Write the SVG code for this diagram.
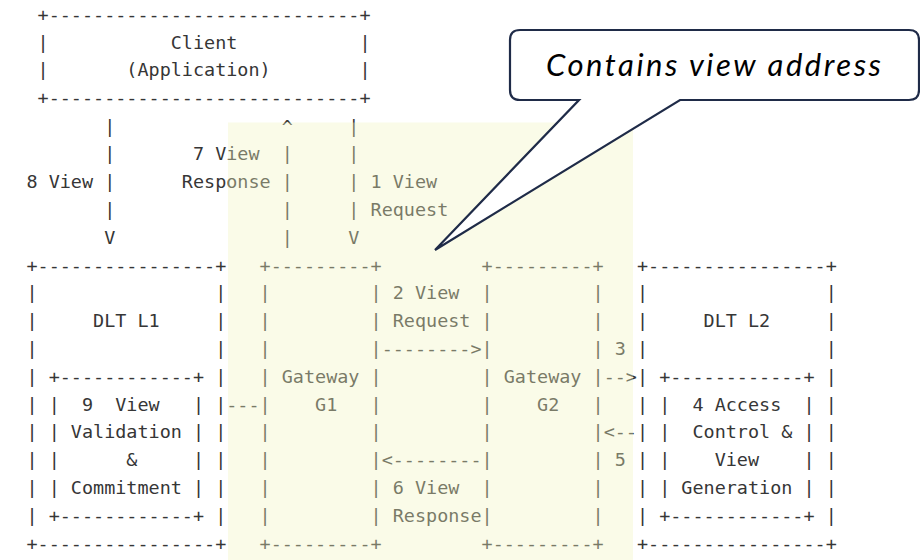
<svg xmlns="http://www.w3.org/2000/svg" width="920" height="560" viewBox="0 0 920 560">
<style>
.a{font-family:"DejaVu Sans Mono","Liberation Mono",monospace;font-size:18.44px;fill:#363636}
.call{font-family:Lato,"Open Sans","Liberation Sans",sans-serif;font-style:italic;font-size:31px;fill:#000}
</style>
<rect x="0" y="0" width="920" height="560" fill="#fff"/>
<g id="client" class="a">
<text x="37.55" y="20.8">+----------------------------+</text>
<text x="37.55 37.55" y="48.6 76.4">||</text>
<text x="359.45 359.45" y="48.6 76.4">||</text>
<text x="170.75" y="48.6">Client</text>
<text x="126.35" y="76.4">(Application)</text>
<text x="37.55" y="104.2">+----------------------------+</text>
</g>
<g id="dlt-l1" class="a">
<text x="26.45" y="271.5">+----------------+</text>
<text x="26.45" y="549.5">+----------------+</text>
<text x="26.45 26.45 26.45 26.45 26.45 26.45 26.45 26.45 26.45" y="299.3 327.1 354.9 382.7 410.5 438.3 466.1 493.9 521.7">|||||||||</text>
<text x="215.15 215.15 215.15 215.15 215.15 215.15 215.15 215.15 215.15" y="299.3 327.1 354.9 382.7 410.5 438.3 466.1 493.9 521.7">|||||||||</text>
<text x="93.05" y="327.1">DLT L1</text>
<g id="view-validation">
<text x="48.65" y="382.7">+------------+</text>
<text x="48.65 48.65 48.65 48.65" y="410.5 438.3 466.1 493.9">||||</text>
<text x="192.95 192.95 192.95 192.95" y="410.5 438.3 466.1 493.9">||||</text>
<text x="48.65" y="521.7">+------------+</text>
<text x="81.95" y="410.5">9</text>
<text x="115.25" y="410.5">View</text>
<text x="70.85" y="438.3">Validation</text>
<text x="126.35" y="466.1">&amp;</text>
<text x="70.85" y="493.9">Commitment</text>
</g>
</g>
<g id="gateway-g1" class="a">
<text x="259.55" y="271.5">+---------+</text>
<text x="259.55" y="549.5">+---------+</text>
<text x="259.55 259.55 259.55 259.55 259.55 259.55 259.55 259.55 259.55" y="299.3 327.1 354.9 382.7 410.5 438.3 466.1 493.9 521.7">|||||||||</text>
<text x="370.55 370.55 370.55 370.55 370.55 370.55 370.55 370.55 370.55" y="299.3 327.1 354.9 382.7 410.5 438.3 466.1 493.9 521.7">|||||||||</text>
<text x="281.75" y="382.7">Gateway</text>
<text x="315.05" y="410.5">G1</text>
</g>
<g id="gateway-g2" class="a">
<text x="481.55" y="271.5">+---------+</text>
<text x="481.55" y="549.5">+---------+</text>
<text x="481.55 481.55 481.55 481.55 481.55 481.55 481.55 481.55 481.55" y="299.3 327.1 354.9 382.7 410.5 438.3 466.1 493.9 521.7">|||||||||</text>
<text x="592.55 592.55 592.55 592.55 592.55 592.55 592.55 592.55 592.55" y="299.3 327.1 354.9 382.7 410.5 438.3 466.1 493.9 521.7">|||||||||</text>
<text x="503.75" y="382.7">Gateway</text>
<text x="537.05" y="410.5">G2</text>
</g>
<g id="dlt-l2" class="a">
<text x="636.95" y="271.5">+----------------+</text>
<text x="636.95" y="549.5">+----------------+</text>
<text x="636.95 636.95 636.95 636.95 636.95 636.95 636.95 636.95 636.95" y="299.3 327.1 354.9 382.7 410.5 438.3 466.1 493.9 521.7">|||||||||</text>
<text x="825.65 825.65 825.65 825.65 825.65 825.65 825.65 825.65 825.65" y="299.3 327.1 354.9 382.7 410.5 438.3 466.1 493.9 521.7">|||||||||</text>
<text x="703.55" y="327.1">DLT L2</text>
<g id="access-control">
<text x="659.15" y="382.7">+------------+</text>
<text x="659.15 659.15 659.15 659.15" y="410.5 438.3 466.1 493.9">||||</text>
<text x="803.45 803.45 803.45 803.45" y="410.5 438.3 466.1 493.9">||||</text>
<text x="659.15" y="521.7">+------------+</text>
<text x="692.45" y="410.5">4 Access</text>
<text x="692.45" y="438.3">Control &amp;</text>
<text x="714.65" y="466.1">View</text>
<text x="681.35" y="493.9">Generation</text>
</g>
</g>
<g id="connectors" class="a">
<g id="c8-view">
<text x="104.15 104.15 104.15 104.15 104.15" y="132.5 160.3 188.1 215.9 243.7">||||V</text>
<text x="26.45" y="188.1">8 View</text>
</g>
<g id="c7-view-response">
<text x="281.75 281.75 281.75 281.75 281.75" y="132.5 160.3 188.1 215.9 243.7">^||||</text>
<text x="192.95" y="160.3">7 View</text>
<text x="181.85" y="188.1">Response</text>
</g>
<g id="c1-view-request">
<text x="348.35 348.35 348.35 348.35 348.35" y="132.5 160.3 188.1 215.9 243.7">||||V</text>
<text x="370.55" y="188.1">1 View</text>
<text x="370.55" y="215.9">Request</text>
</g>
<g id="c9-link">
<text x="226.25" y="410.5">---</text>
</g>
<g id="c2-view-request">
<text x="392.75" y="299.3">2 View</text>
<text x="392.75" y="327.1">Request</text>
<text x="381.65" y="354.9">--------&gt;</text>
</g>
<g id="c6-view-response">
<text x="381.65" y="466.1">&lt;--------</text>
<text x="392.75" y="493.9">6 View</text>
<text x="392.75" y="521.7">Response</text>
</g>
<g id="c3">
<text x="614.75" y="354.9">3</text>
<text x="603.65" y="382.7">--&gt;</text>
</g>
<g id="c5">
<text x="603.65" y="438.3">&lt;--</text>
<text x="614.75" y="466.1">5</text>
</g>
</g>
<rect id="highlight" x="228" y="122.5" width="405" height="437.5" fill="#F1F5C0" fill-opacity="0.36"/>
<g id="callout">
<path d="M520,30 H909 Q919,30 919,40 V90 Q919,100 909,100 H680 L435,250 L579,100 H520 Q510,100 510,90 V40 Q510,30 520,30 Z" fill="#fff" stroke="#1f2b48" stroke-width="2.2" stroke-linejoin="miter"/>
<text class="call" x="713.5" y="76" text-anchor="middle" textLength="335">Contains view address</text>
</g>
</svg>
